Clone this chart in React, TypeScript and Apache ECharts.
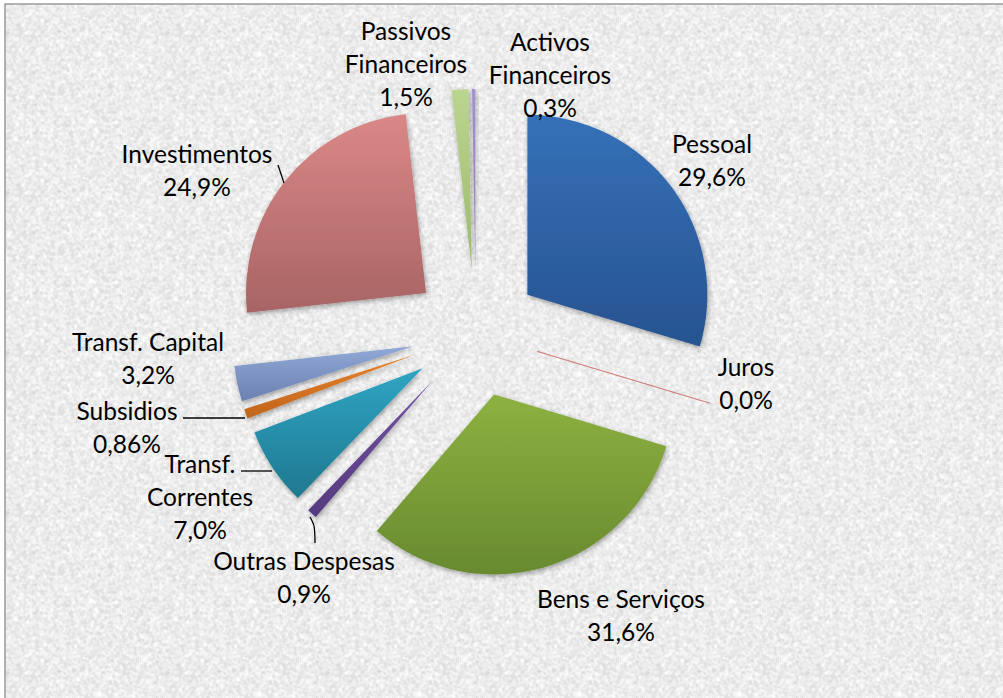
import React, { useEffect, useRef } from "react";
import * as echarts from "echarts";

const categories = [
  "Pessoal",
  "Juros",
  "Bens e Serviços",
  "Outras Despesas",
  "Transf. Correntes",
  "Subsidios",
  "Transf. Capital",
  "Investimentos",
  "Passivos Financeiros",
  "Activos Financeiros",
];
const labelNames = [
  "Pessoal",
  "Juros",
  "Bens e Serviços",
  "Outras Despesas",
  "Transf.\nCorrentes",
  "Subsidios",
  "Transf. Capital",
  "Investimentos",
  "Passivos\nFinanceiros",
  "Activos\nFinanceiros",
];
const values = [29.6, 0.0, 31.6, 0.9, 7.0, 0.86, 3.2, 24.9, 1.5, 0.3];
const pctLabels = ["29,6%", "0,0%", "31,6%", "0,9%", "7,0%", "0,86%", "3,2%", "24,9%", "1,5%", "0,3%"];

const colorsTop = ["#3571B8", "#C0504D", "#8DB141", "#7252A2", "#2FA5C3", "#E8822A", "#91A9D8", "#DA8887", "#BAD58F", "#A493CC"];
const colorsBottom = ["#275390", "#C0504D", "#688A2F", "#553A7E", "#1F7890", "#C0651C", "#6B80AE", "#A86464", "#9CBB6E", "#8B7BB3"];

// label block centers (layout only)
const labelPos: number[][] = [
  [712, 160],
  [746, 383],
  [621, 615],
  [304, 577],
  [200, 496],
  [127, 427],
  [148, 358],
  [197, 170],
  [406, 63],
  [550, 74],
];
const labelLines: (number[][] | null)[] = [
  null,
  null,
  null,
  [[310, 517], [314, 526], [315, 543]],
  [[272, 471], [257, 471], [241, 471]],
  [[245, 418], [214, 418], [183, 418]],
  null,
  [[284, 183], [281, 174], [278, 165]],
  null,
  null,
];

// deterministic paper-like texture for the background (decoration only)
function makeTexture(): HTMLCanvasElement {
  const size = 160;
  const c = document.createElement("canvas");
  c.width = size;
  c.height = size;
  const ctx = c.getContext("2d");
  if (!ctx) return c;
  const hash = (x: number, y: number) => {
    const s = Math.sin(((x % size) + size) % size * 127.1 + (((y % size) + size) % size) * 311.7) * 43758.5453;
    return s - Math.floor(s);
  };
  const base: number[] = [];
  for (let y = 0; y < size; y++)
    for (let x = 0; x < size; x++) base.push(hash(x, y));
  const img = ctx.createImageData(size, size);
  for (let y = 0; y < size; y++) {
    for (let x = 0; x < size; x++) {
      let sum = 0;
      for (let dy = -1; dy <= 1; dy++)
        for (let dx = -1; dx <= 1; dx++) {
          const xx = (x + dx + size) % size;
          const yy = (y + dy + size) % size;
          sum += base[yy * size + xx];
        }
      const v = sum / 9; // ~0.5 avg
      const g = Math.round(236 + (v - 0.5) * 70);
      const k = (y * size + x) * 4;
      img.data[k] = g;
      img.data[k + 1] = g;
      img.data[k + 2] = g;
      img.data[k + 3] = 255;
    }
  }
  ctx.putImageData(img, 0, 0);
  return c;
}

export default function App() {
  const ref = useRef<HTMLDivElement>(null);
  useEffect(() => {
    if (!ref.current) return;
    const chart = echarts.init(ref.current, null, { renderer: "svg" });
    const data = categories.map((name, i) => ({
      name,
      value: values[i],
      selected: true,
      itemStyle: {
        color: new echarts.graphic.LinearGradient(0, 0, 0, 1, [
          { offset: 0, color: colorsTop[i] },
          { offset: 1, color: colorsBottom[i] },
        ]),
        borderColor: i === 1 ? "#C86A68" : "transparent",
        borderWidth: i === 1 ? 0.6 : 0,
        shadowBlur: i === 1 ? 0 : 5,
        shadowColor: i === 1 ? "transparent" : "rgba(0,0,0,0.35)",
        shadowOffsetX: i === 1 ? 0 : 1,
        shadowOffsetY: i === 1 ? 0 : 2,
      },
    }));

    const labelGraphics: any[] = [];
    categories.forEach((_, i) => {
      labelGraphics.push({
        type: "text",
        z: 20,
        silent: true,
        style: {
          text: labelNames[i] + "\n" + pctLabels[i],
          x: labelPos[i][0],
          y: labelPos[i][1],
          textAlign: "center",
          textVerticalAlign: "middle",
          font: "24.5px Lato",
          lineHeight: 33,
          fill: "#000",
        },
      });
      const pts = labelLines[i];
      if (pts) {
        labelGraphics.push({
          type: "polyline",
          z: 20,
          silent: true,
          shape: { points: pts, smooth: 0.3 },
          style: { stroke: "#000", lineWidth: 1.3, fill: null },
        });
      }
    });

    const texture = makeTexture();

    chart.setOption({
      animation: false,
      backgroundColor: "#ffffff",
      graphic: [
        {
          type: "rect",
          z: -11,
          silent: true,
          shape: { x: 5, y: 4, width: 1020, height: 720 },
          style: { fill: "#ebebeb" },
        },
        {
          type: "rect",
          z: -10,
          silent: true,
          shape: { x: 5, y: 4, width: 1020, height: 720 },
          style: { fill: { image: texture, repeat: "repeat" } as any, stroke: "#9a9a9a", lineWidth: 1.5 },
        },
        ...labelGraphics,
      ],
      series: [
        {
          type: "pie",
          center: [476, 333],
          radius: 180,
          startAngle: 90,
          clockwise: true,
          selectedMode: "multiple",
          selectedOffset: 64,
          avoidLabelOverlap: false,
          emphasis: { disabled: true },
          label: { show: false },
          labelLine: { show: false },
          data,
        },
      ],
    });
    return () => chart.dispose();
  }, []);
  return (
    <div
      ref={ref}
      style={{ position: "fixed", left: 0, top: 0, width: 1003, height: 698 }}
    />
  );
}
